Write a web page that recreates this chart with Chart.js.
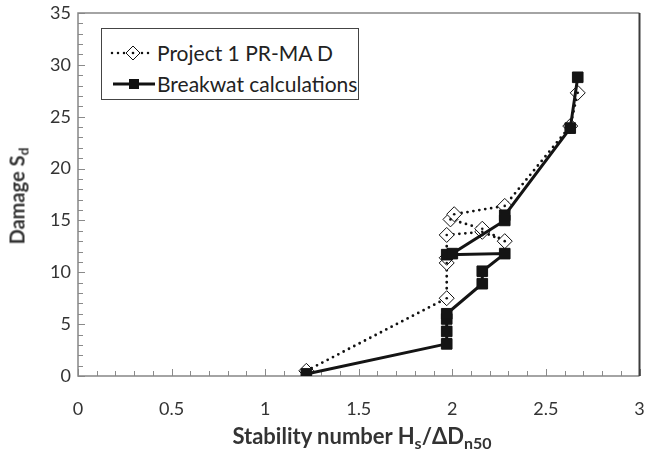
<!DOCTYPE html>
<html>
<head>
<meta charset="utf-8">
<script src="https://cdn.jsdelivr.net/npm/chart.js@4/dist/chart.umd.min.js"></script>
<style>
  html, body { margin: 0; padding: 0; background: #fff; }
  #wrap { position: relative; width: 648px; height: 452px; font-family: Lato, "Liberation Sans", sans-serif; color: #333; }
  #c { position: absolute; left: 0; top: 0; }
  #legend { position: absolute; left: 101px; top: 28px; width: 258px; height: 72px; box-sizing: border-box;
            border: 1px solid #444; background: #fff; }
  #legend svg { position: absolute; left: 0; top: 0; }
  #legend .txt { position: absolute; left: 55px; font-size: 21px; line-height: 22px; white-space: nowrap; color: #222; }
  .axtitle { position: absolute; font-weight: bold; font-size: 20px; white-space: nowrap; color: #333; }
  .axtitle sub { font-size: 14px; vertical-align: -4px; }
  #ytitle { left: 18px; top: 196px; transform: translate(-50%, -50%) rotate(-90deg); }
  #xtitle { left: 362px; top: 437px; transform: translate(-50%, -50%); font-size: 22px; }
  #xtitle sub { font-size: 16px; vertical-align: -5px; }
</style>
</head>
<body>
<div id="wrap">
  <canvas id="c" width="648" height="452"></canvas>
  <div id="legend">
    <svg width="258" height="72">
      <line x1="10" y1="24" x2="52" y2="24" stroke="#111" stroke-width="2.5" stroke-dasharray="0 6" stroke-linecap="round"/>
      <polygon points="31,17 38,24 31,31 24,24" fill="#fff" stroke="#111" stroke-width="1"/>
      <circle cx="31" cy="24" r="1.3" fill="#111"/>
      <line x1="11" y1="55" x2="53" y2="55" stroke="#111" stroke-width="3"/>
      <rect x="27" y="50" width="10" height="10" fill="#111"/>
    </svg>
    <span class="txt" style="top:13px">Project 1 PR-MA D</span>
    <span class="txt" style="top:44px">Breakwat calculations</span>
  </div>
  <div class="axtitle" id="ytitle">Damage S<sub>d</sub></div>
  <div class="axtitle" id="xtitle">Stability number H<sub>s</sub>/ΔD<sub>n50</sub></div>
</div>
<script>
// Project 1 PR-MA D (measured)
const projX = [1.22, 1.97, 1.97, 1.97, 1.97, 2.16, 2.28, 2.16, 1.99, 2.01, 2.28, 2.63, 2.67];
const projY = [0.5, 7.5, 10.9, 11.4, 13.6, 13.9, 13.0, 14.2, 15.1, 15.6, 16.4, 24.1, 27.3];

// Breakwat calculations
const breakX = [1.22, 1.97, 1.97, 1.97, 1.97, 2.16, 2.16, 2.28, 1.97, 2.00, 2.28, 2.28, 2.63, 2.67];
const breakY = [0.2, 3.1, 4.3, 5.5, 6.0, 8.9, 10.1, 11.8, 11.7, 11.8, 15.0, 15.5, 23.9, 28.8];

// axis ranges
const xTicks = [0, 0.5, 1, 1.5, 2, 2.5, 3];
const yTicks = [0, 5, 10, 15, 20, 25, 30, 35];

function toPoints(xs, ys) {
  return xs.map((x, i) => ({ x: x, y: ys[i] }));
}

// plot frame with small inside tick marks, Excel style
const frameTicks = {
  id: 'frameTicks',
  beforeDatasetsDraw(chart) {
    const ctx = chart.ctx;
    const a = chart.chartArea;
    const xs = chart.scales.x, ys = chart.scales.y;
    ctx.save();
    ctx.strokeStyle = '#8a8a8a';
    ctx.lineWidth = 1;
    ctx.beginPath();
    for (let i = 0; i <= 30; i++) {
      const px = Math.round(xs.getPixelForValue(i / 10)) + 0.5;
      const len = i % 5 === 0 ? 7 : 5;
      ctx.moveTo(px, a.bottom);
      ctx.lineTo(px, a.bottom - len);
    }
    for (let i = 0; i <= 35; i++) {
      const py = Math.round(ys.getPixelForValue(i)) + 0.5;
      const len = i % 5 === 0 ? 7 : 5;
      ctx.moveTo(a.left, py);
      ctx.lineTo(a.left + len, py);
    }
    ctx.stroke();

    ctx.lineWidth = 1.5;
    ctx.strokeStyle = '#868686';
    ctx.beginPath();
    ctx.moveTo(a.right, a.top);
    ctx.lineTo(a.left, a.top);
    ctx.lineTo(a.left, a.bottom);
    ctx.lineTo(a.right, a.bottom);
    ctx.stroke();
    ctx.strokeStyle = '#3c3c3c';
    ctx.lineWidth = 2;
    ctx.beginPath();
    ctx.moveTo(a.right, a.top);
    ctx.lineTo(a.right, a.bottom);
    ctx.stroke();
    ctx.restore();
  }
};

new Chart(document.getElementById('c'), {
  type: 'line',
  data: {
    datasets: [
      {
        label: 'Breakwat calculations',
        data: toPoints(breakX, breakY),
        borderColor: '#141414',
        borderWidth: 3,
        pointStyle: 'rect',
        pointRadius: 7.5,
        pointBackgroundColor: '#141414',
        pointBorderColor: '#141414',
        pointBorderWidth: 1,
        order: 1
      },
      {
        label: 'centre dots',
        data: toPoints(projX, projY),
        showLine: false,
        pointStyle: 'circle',
        pointRadius: 1.3,
        pointBackgroundColor: '#111',
        pointBorderWidth: 0,
        order: 2
      },
      {
        label: 'Project 1 PR-MA D',
        data: toPoints(projX, projY),
        borderColor: '#111',
        borderWidth: 2.8,
        borderDash: [0, 6],
        borderCapStyle: 'round',
        pointStyle: 'rectRot',
        pointRadius: 7.5,
        pointBackgroundColor: '#fff',
        pointBorderColor: '#111',
        pointBorderWidth: 1,
        order: 3
      }
    ]
  },
  options: {
    responsive: false,
    animation: false,
    layout: { padding: { left: 0, right: 4, top: 13, bottom: 0 } },
    plugins: {
      legend: { display: false },
      tooltip: { enabled: false }
    },
    scales: {
      x: {
        type: 'linear',
        min: 0,
        max: 3,
        afterBuildTicks: s => { s.ticks = xTicks.map(v => ({ value: v })); },
        ticks: {
          padding: 22, color: '#333', font: { family: 'Lato', size: 18 }, maxRotation: 0,
          callback: v => String(v)
        },
        grid: { display: false, drawTicks: false },
        border: { display: false },
        afterFit: s => { s.height = 76; s.paddingLeft = 0; s.paddingRight = 0; }
      },
      y: {
        type: 'linear',
        min: 0,
        max: 35,
        afterBuildTicks: s => { s.ticks = yTicks.map(v => ({ value: v })); },
        ticks: { padding: 7, color: '#333', font: { family: 'Lato', size: 18 }, callback: v => String(v) },
        grid: { display: false, drawTicks: false },
        border: { display: false },
        afterFit: s => { s.width = 78; s.paddingTop = 0; s.paddingBottom = 0; }
      }
    }
  },
  plugins: [frameTicks]
});
</script>
</body>
</html>
